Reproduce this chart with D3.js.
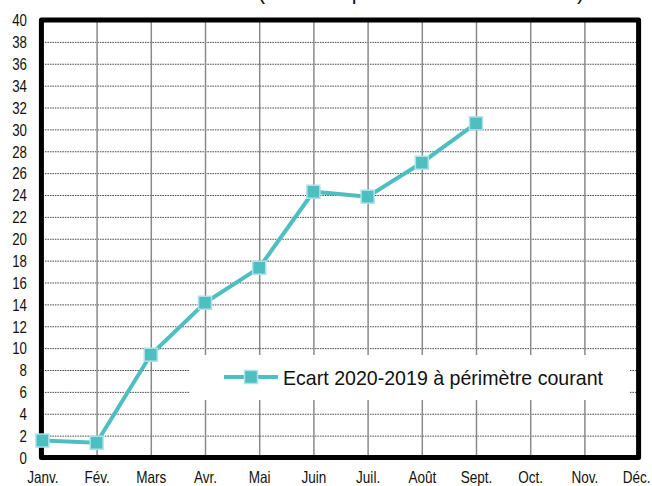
<!DOCTYPE html>
<html><head><meta charset="utf-8">
<script src="https://cdn.jsdelivr.net/npm/d3@7"></script>
<style>
html,body{margin:0;padding:0;background:#fff;}
svg{display:block;}
text{font-family:"Liberation Sans Narrow","Arial Narrow","Liberation Sans",Arial,sans-serif;fill:#111;}
</style></head>
<body>
<script>
const months = ["Janv.","Fév.","Mars","Avr.","Mai","Juin","Juil.","Août","Sept.","Oct.","Nov.","Déc."];
const ecartValues = [1.55, 1.35, 9.4, 14.15, 17.35, 24.3, 23.85, 26.95, 30.55];
const yTicks = d3.range(0, 41, 2);
const seriesName = "Ecart 2020-2019 à périmètre courant";
const titleText = "(cumul depuis le début de l'année)";

const W = 652, H = 486;
const svg = d3.select("body").append("svg").attr("width", W).attr("height", H);

const x = d3.scalePoint().domain(months).range([42.4, 638.6]);
const y = d3.scaleLinear().domain([0, 40]).range([457.5, 20]);

// narrow-font emulation: compress text horizontally
function narrow(sel, f) {
  sel.each(function() {
    const len = this.getComputedTextLength();
    d3.select(this).attr("textLength", len * f).attr("lengthAdjust", "spacingAndGlyphs");
  });
}

// title (mostly above the visible area, as in the reference)
svg.append("text").attr("x", 258).attr("y", -1)
  .attr("font-size", 22).attr("textLength", 326).attr("lengthAdjust", "spacingAndGlyphs")
  .text(titleText);

// horizontal dotted grid
const gy = svg.append("g")
  .attr("transform", `translate(${x.range()[0]},0)`)
  .call(d3.axisLeft(y).tickValues(yTicks).tickSize(-(x.range()[1]-x.range()[0])).tickFormat(""));
gy.select(".domain").remove();
gy.selectAll(".tick line").attr("stroke", "#444").attr("stroke-width", 1).attr("stroke-dasharray", "1.5,1");

// vertical grid
const gx = svg.append("g")
  .attr("transform", `translate(0,${y(0)})`)
  .call(d3.axisBottom(x).tickSize(-(y(0)-y(40))).tickFormat(""));
gx.select(".domain").remove();
gx.selectAll(".tick line").attr("stroke", "#8a8a8a").attr("stroke-width", 1.5);

// y labels
const yl = svg.append("g")
  .attr("transform", `translate(27,0)`)
  .call(d3.axisLeft(y).tickValues(yTicks).tickSize(0).tickPadding(0));
yl.select(".domain").remove();
yl.selectAll("text").attr("font-size", 16).attr("font-family", null).style("fill", "#111").attr("dy", "0.36em");
narrow(yl.selectAll("text"), 0.83);

// x labels
const xl = svg.append("g")
  .attr("transform", `translate(0,470)`)
  .call(d3.axisBottom(x).tickSize(0).tickPadding(0));
xl.select(".domain").remove();
xl.selectAll("text").attr("font-size", 16.5).attr("font-family", null).style("fill", "#111").attr("dy", "0.76em");
narrow(xl.selectAll("text"), 0.82);
// keep the last label inside the window
xl.selectAll("text").each(function() {
  const b = this.getBBox();
  const t = d3.select(this.parentNode).attr("transform");
  const tx = +t.match(/translate\(([-\d.]+)/)[1];
  const over = tx + b.x + b.width - (W - 1.5);
  if (over > 0) d3.select(this).attr("x", -over);
});

// legend box (white, covers grid)
const lg = svg.append("g");
lg.append("rect").attr("x", 190).attr("y", 355).attr("width", 440).attr("height", 45).attr("fill", "#fff");

// plot border
svg.append("rect")
  .attr("x", x.range()[0]-1).attr("y", y(40))
  .attr("width", x.range()[1]-x.range()[0]+1).attr("height", y(0)-y(40))
  .attr("fill", "none").attr("stroke", "#000").attr("stroke-width", 5).attr("stroke-linejoin", "round");

const lineColor = "#4EBFC1", markBorder = "#aee2e8";
// series line
const data = ecartValues.map((v, i) => ({m: months[i], v}));
svg.append("path").datum(data)
  .attr("fill", "none").attr("stroke", lineColor).attr("stroke-width", 4)
  .attr("d", d3.line().x(d => x(d.m)).y(d => y(d.v)));
svg.selectAll("rect.mk").data(data).join("rect").attr("class", "mk")
  .attr("x", d => x(d.m)-6.5).attr("y", d => y(d.v)-6.5)
  .attr("width", 13).attr("height", 13)
  .attr("fill", lineColor).attr("stroke", markBorder).attr("stroke-width", 1.5);

// legend content
lg.raise();
lg.append("line").attr("x1", 224).attr("x2", 278).attr("y1", 377).attr("y2", 377)
  .attr("stroke", lineColor).attr("stroke-width", 4);
lg.append("rect").attr("x", 251-6.5).attr("y", 377-6.5).attr("width", 13).attr("height", 13)
  .attr("fill", lineColor).attr("stroke", markBorder).attr("stroke-width", 1.5);
lg.append("text").attr("x", 283).attr("y", 385).attr("font-size", 21)
  .attr("textLength", 320).attr("lengthAdjust", "spacingAndGlyphs").text(seriesName);
</script>
</body></html>
